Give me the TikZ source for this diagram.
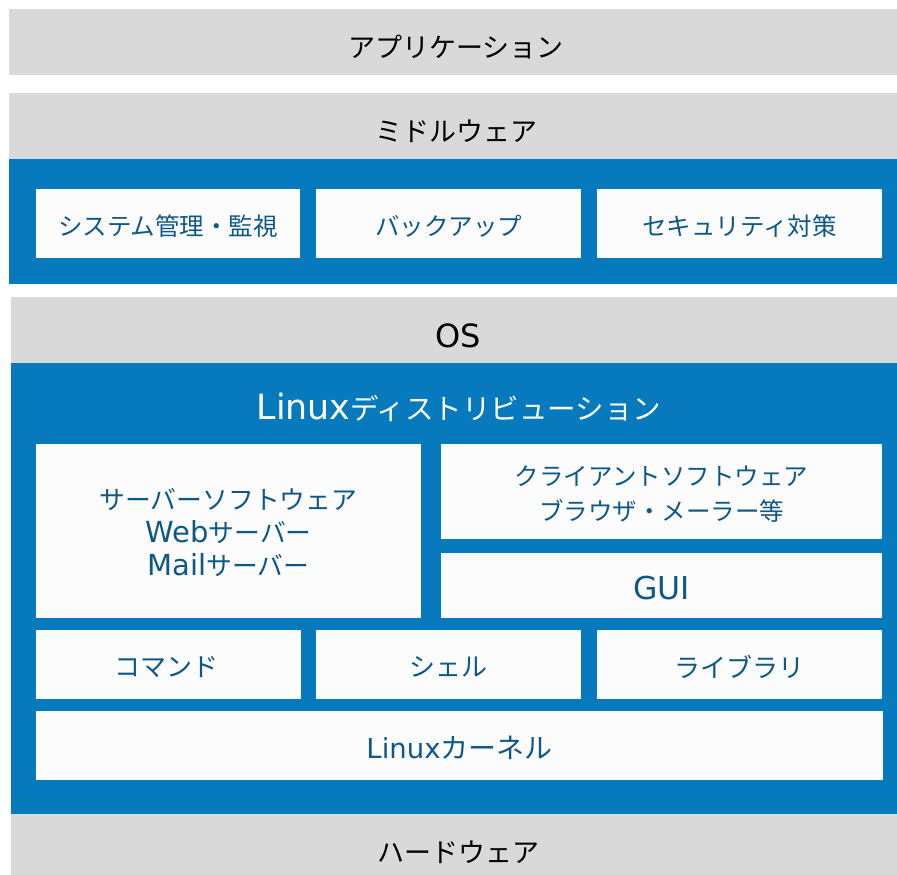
\documentclass[tikz,border=0pt]{standalone}
\usepackage{fontspec}
\setmainfont{Noto Sans CJK JP}
\newfontfamily\latf{DejaVu Sans}
\newcommand\lt[2]{{\fontsize{#1}{33}\latf #2}}
\newcommand\fs[1]{\fontsize{#1}{33}\selectfont}
\definecolor{graybar}{RGB}{217,217,217}
\definecolor{bluebg}{RGB}{6,122,188}
\definecolor{boxtext}{RGB}{14,88,136}
\definecolor{boxfill}{RGB}{252,252,252}
\begin{document}
\begin{tikzpicture}[x=1pt,y=-1pt,
  graybox/.style={fill=graybar, draw=none, inner sep=0pt},
  bluebox/.style={fill=bluebg, draw=none, inner sep=0pt},
  whitebox/.style={fill=boxfill, draw=none, inner sep=0pt},
  boxlabel/.style={text=boxtext, inner sep=0pt, align=center},
  graylabel/.style={text=black, inner sep=0pt, font=\fontsize{27}{30}\selectfont},
  bluelabel/.style={text=white, inner sep=0pt, font=\fontsize{28.5}{32}\selectfont}]
\useasboundingbox (0,0) rectangle (897,875);
% top layers
\node[graybox, minimum width=888pt, minimum height=66pt] (app) at (453,42) {};
\node[graylabel] (applbl) at (456,47) {アプリケーション};
\node[graybox, minimum width=888pt, minimum height=66pt] (mid) at (453,126) {};
\node[graylabel] (midlbl) at (456,131) {ミドルウェア};
\node[bluebox, minimum width=888pt, minimum height=125pt] (midblue) at (453,221.5) {};
\node[whitebox, minimum width=264pt, minimum height=69pt] (sys) at (168,223.5) {};
\node[boxlabel, font=\fs{24.5}] (syslbl) at (168,226) {システム管理・監視};
\node[whitebox, minimum width=265pt, minimum height=69pt] (bak) at (448.5,223.5) {};
\node[boxlabel, font=\fs{24.5}] (baklbl) at (448.5,226) {バックアップ};
\node[whitebox, minimum width=285pt, minimum height=69pt] (sec) at (739.5,223.5) {};
\node[boxlabel, font=\fs{24.5}] (seclbl) at (739.5,226) {セキュリティ対策};
% OS
\node[graybox, minimum width=886pt, minimum height=66pt] (os) at (454,330) {};
\node[graylabel] (oslbl) at (458,336) {\lt{32}{OS}};
\node[bluebox, minimum width=886pt, minimum height=451pt] (osblue) at (454,588.5) {};
\node[bluelabel] (distro) at (459,407) {\lt{34.8}{Linux}ディストリビューション};
\node[whitebox, minimum width=385pt, minimum height=174pt] (server) at (228.5,531) {};
\node[boxlabel, font=\fs{25.8}] (serverlbl) at (228.5,533)
  {サーバーソフトウェア\\\lt{29}{Web}サーバー\\\lt{29}{Mail}サーバー};
\node[whitebox, minimum width=441pt, minimum height=95pt] (client) at (661.5,491.5) {};
\node[boxlabel, font=\fontsize{24.5}{35}\selectfont] (clientlbl) at (661.5,494)
  {クライアントソフトウェア\\ブラウザ・メーラー等};
\node[whitebox, minimum width=441pt, minimum height=65pt] (gui) at (661.5,585.5) {};
\node[boxlabel, font=\fs{26}] (guilbl) at (661.5,588) {\lt{31.5}{GUI}};
\node[whitebox, minimum width=265pt, minimum height=69pt] (cmd) at (168.5,664.5) {};
\node[boxlabel, font=\fs{26}] (cmdlbl) at (166,667) {コマンド};
\node[whitebox, minimum width=265pt, minimum height=69pt] (shell) at (448.5,664.5) {};
\node[boxlabel, font=\fs{26}] (shelllbl) at (448.5,667) {シェル};
\node[whitebox, minimum width=285pt, minimum height=69pt] (lib) at (739.5,664.5) {};
\node[boxlabel, font=\fs{26}] (liblbl) at (739.5,667) {ライブラリ};
\node[whitebox, minimum width=847pt, minimum height=69pt] (kernel) at (459.5,745.5) {};
\node[boxlabel, font=\fs{28}] (kernellbl) at (459.5,748) {\lt{27.5}{Linux}カーネル};
% hardware
\node[graybox, minimum width=886pt, minimum height=61pt] (hw) at (454,844.5) {};
\node[graylabel] (hwlbl) at (458,852) {ハードウェア};
\end{tikzpicture}
\end{document}
